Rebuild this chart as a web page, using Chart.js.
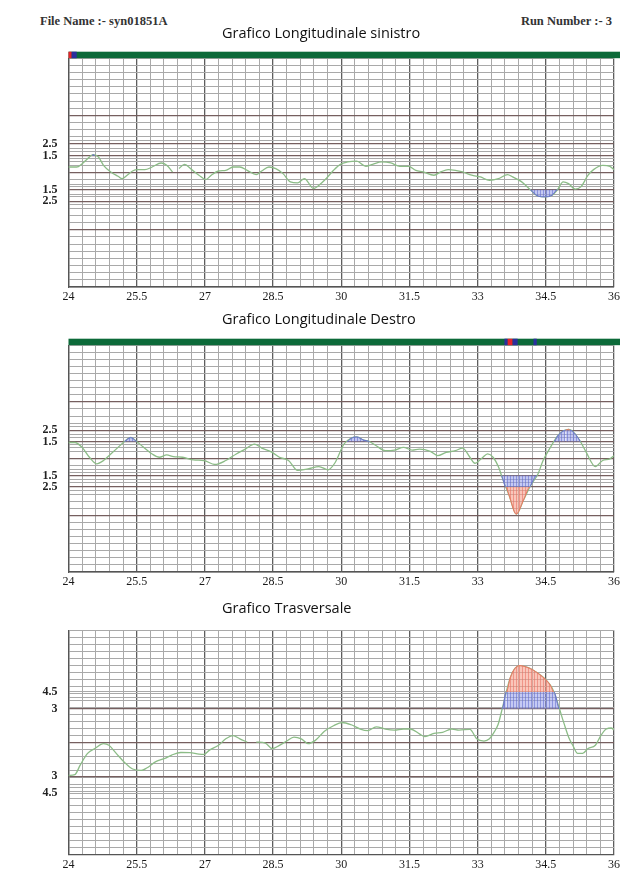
<!DOCTYPE html>
<html>
<head>
<meta charset="utf-8">
<script src="https://cdn.jsdelivr.net/npm/chart.js@4.4.1/dist/chart.umd.min.js"></script>
<style>
  body { margin: 0; background: #fff; width: 625px; height: 873px; overflow: hidden; position: relative; }
  .box { position: absolute; left: 0; width: 625px; }
  .hdr { position: absolute; font: bold 12.5px "Liberation Serif", serif; color: #333; line-height: 13px; white-space: nowrap; }
  .ttl { position: absolute; left: 222px; font: 14.5px "Open Sans", sans-serif; color: #111; line-height: 18px; white-space: nowrap; }
</style>
</head>
<body>
<div class="hdr" style="left:40px; top:15px">File Name :- syn01851A</div>
<div class="hdr" style="right:13px; top:15px">Run Number :- 3</div>

<div class="box" style="top:40px; height:270px"><canvas id="left"></canvas></div>
<div class="box" style="top:327px; height:270px"><canvas id="right"></canvas></div>
<div class="box" style="top:612px; height:261px"><canvas id="cross"></canvas></div>

<div class="ttl" style="top:24px">Grafico Longitudinale sinistro</div>
<div class="ttl" style="top:310px">Grafico Longitudinale Destro</div>
<div class="ttl" style="top:599px">Grafico Trasversale</div>

<script>
// chainage (x) and deviation values
const xTickLabels = [24, 25.5, 27, 28.5, 30, 31.5, 33, 34.5, 36];
const longLimits = [1.5, 2.5];   // longitudinal thresholds
const crossLimits = [3, 4.5];    // transversal thresholds

const leftX = [24.00, 24.18, 24.30, 24.42, 24.54, 24.66, 24.77, 24.93, 25.09, 25.18, 25.29, 25.41, 25.52, 25.68, 25.84,
  26.04, 26.16, 26.29, 26.36, 26.43, 26.55, 26.71, 26.87, 27.02, 27.14, 27.30, 27.46, 27.62, 27.77, 27.93, 28.13, 28.25,
  28.41, 28.56, 28.72, 28.88, 29.04, 29.19, 29.39, 29.51, 29.67, 29.83, 29.98, 30.14, 30.34, 30.54, 30.69, 30.89, 31.09,
  31.29, 31.48, 31.64, 31.80, 32.04, 32.19, 32.35, 32.51, 32.67, 32.87, 33.06, 33.26, 33.46, 33.66, 33.77, 33.97, 34.17,
  34.33, 34.48, 34.64, 34.76, 34.88, 35.00, 35.15, 35.27, 35.43, 35.55, 35.75, 35.91, 36.00];
const leftY = [0.49, 0.49, 0.78, 1.22, 1.57, 1.36, 0.64, 0.06, -0.32, -0.52, -0.23, 0.14, 0.26, 0.26, 0.49,
  0.84, 0.64, 0.06, null, 0.35, 0.72, 0.26, -0.23, -0.61, -0.23, 0.14, 0.20, 0.49, 0.49, 0.20, -0.17, 0.14,
  0.49, 0.35, -0.09, -0.81, -0.90, -0.52, -1.39, -1.10, -0.52, 0.20, 0.72, 0.93, 1.01, 0.55, 0.72, 0.93, 0.84,
  0.55, 0.55, 0.20, 0.06, -0.23, 0.06, 0.26, 0.20, 0.06, -0.23, -0.38, -0.67, -0.52, -0.17, -0.38, -0.81, -1.54,
  -2.06, -2.12, -1.97, -1.48, -0.81, -0.96, -1.45, -1.25, -0.23, 0.26, 0.64, 0.55, 0.26];

const rightX = [24.00, 24.14, 24.30, 24.46, 24.62, 24.77, 24.93, 25.09, 25.25, 25.37, 25.48, 25.64, 25.84, 26.00, 26.16,
  26.31, 26.51, 26.75, 26.98, 27.22, 27.46, 27.69, 27.89, 28.09, 28.25, 28.48, 28.64, 28.84, 29.04, 29.27, 29.51, 29.71,
  29.87, 30.06, 30.22, 30.34, 30.50, 30.62, 30.77, 30.97, 31.17, 31.37, 31.56, 31.72, 31.96, 32.12, 32.31, 32.51, 32.67,
  32.83, 32.94, 33.10, 33.22, 33.34, 33.46, 33.55, 33.69, 33.85, 34.01, 34.17, 34.33, 34.44, 34.60, 34.76, 34.88, 35.00,
  35.12, 35.26, 35.39, 35.59, 35.75, 35.91, 36.00];
const rightY = [1.42, 1.42, 0.99, 0.12, -0.46, -0.17, 0.41, 0.99, 1.57, 1.86, 1.57, 1.04, 0.41, 0.12, 0.32,
  0.17, 0.12, -0.12, -0.17, -0.52, -0.17, 0.41, 0.84, 1.28, 0.93, 0.55, 0.12, -0.17, -1.04, -0.90, -0.70, -0.99,
  -0.32, 1.28, 1.80, 1.91, 1.62, 1.51, 1.13, 0.70, 0.75, 0.99, 0.75, 0.84, 0.64, 0.26, 0.55, 0.70, 0.93,
  0.12, -0.41, 0.06, 0.41, 0.12, -0.75, -1.77, -3.22, -4.90, -3.65, -2.35, -1.33, -0.17, 0.99, 2.00, 2.43, 2.58,
  2.29, 1.51, 0.55, -0.70, -0.17, -0.03, 0.26];

const crossX = [24.00, 24.14, 24.26, 24.42, 24.58, 24.77, 24.89, 25.05, 25.25, 25.41, 25.60, 25.72, 25.92, 26.12, 26.27,
  26.47, 26.67, 26.87, 26.98, 27.10, 27.30, 27.46, 27.62, 27.77, 27.93, 28.03, 28.13, 28.33, 28.48, 28.64, 28.80, 28.96,
  29.12, 29.27, 29.43, 29.63, 29.83, 30.02, 30.22, 30.42, 30.58, 30.77, 30.97, 31.17, 31.37, 31.52, 31.72, 31.84, 32.04,
  32.23, 32.43, 32.59, 32.83, 32.98, 33.14, 33.26, 33.36, 33.45, 33.54, 33.63, 33.72, 33.82, 33.93, 34.05, 34.20, 34.35,
  34.50, 34.60, 34.68, 34.80, 34.90, 35.00, 35.10, 35.20, 35.31, 35.43, 35.59, 35.71, 35.83, 35.94, 36.00];
const crossY = [-2.94, -2.86, -1.99, -0.97, -0.53, -0.10, -0.25, -0.97, -1.84, -2.36, -2.48, -2.27, -1.70, -1.41, -1.12,
  -0.89, -0.91, -1.03, -1.06, -0.68, -0.25, 0.33, 0.62, 0.33, 0.04, null, 0.04, -0.05, -0.54, -0.25, 0.13, 0.48,
  0.33, -0.10, 0.19, 1.00, 1.49, 1.78, 1.58, 1.20, 1.06, 1.40, 1.20, 1.11, 1.20, 1.20, 0.77, 0.53, 0.82,
  0.91, 1.20, 1.11, 1.17, 0.33, 0.13, 0.33, 0.90, 1.60, 3.00, 4.50, 5.80, 6.60, 6.85, 6.75, 6.50, 6.10,
  5.60, 5.10, 4.50, 3.00, 1.70, 0.50, -0.30, -0.97, -0.97, -0.53, -0.25, 0.62, 1.20, 1.29, 1.11];

// exceedance flags on the top strip: [from, to, type]
const leftFlags = [[24.00, 24.07, 'r'], [24.07, 24.18, 'b']];
const rightFlags = [[33.59, 33.66, 'b'], [33.66, 33.77, 'r'], [33.77, 33.88, 'b'], [34.23, 34.30, 'b']];

// ---------------------------------------------------------------

function hatch(bg, line) {
  const c = document.createElement('canvas');
  c.width = 3; c.height = 3;
  const g = c.getContext('2d');
  g.fillStyle = bg; g.fillRect(0, 0, 3, 3);
  g.fillStyle = line; g.fillRect(0, 0, 1, 3);
  return g.createPattern(c, 'repeat');
}
const blueHatch = hatch('rgba(150,158,235,0.55)', 'rgba(95,105,205,0.55)');
const redHatch = hatch('rgba(246,160,140,0.6)', 'rgba(232,110,95,0.55)');

// series clamped into [from, to], with the threshold crossings added so the fill follows the line
function band(xs, ys, from, to) {
  const clamp = v => Math.min(Math.max(v, from), to);
  const pts = [];
  for (let i = 0; i < xs.length; i++) {
    const v = ys[i];
    if (v === null) { pts.push({ x: xs[i], y: null }); continue; }
    pts.push({ x: xs[i], y: clamp(v) });
    const n = ys[i + 1];
    if (i + 1 < xs.length && n !== null && n !== undefined) {
      const cross = [];
      [from, to].forEach(lim => {
        if (isFinite(lim) && (v - lim) * (n - lim) < 0) {
          const t = (lim - v) / (n - v);
          cross.push({ x: xs[i] + t * (xs[i + 1] - xs[i]), y: lim });
        }
      });
      cross.sort((a, b) => a.x - b.x).forEach(p => pts.push(p));
    }
  }
  return pts;
}

function yGrid(limits, extra) {
  const vals = [];
  for (let k = 0; k <= 32; k++) vals.push(+(-10 + k * 0.625).toFixed(4));
  limits.concat(extra).forEach(v => { vals.push(v); vals.push(-v); });
  return [...new Set(vals)].sort((a, b) => a - b);
}

const xGrid = [];
for (let i = 0; i <= 40; i++) xGrid.push(+(24 + i * 0.3).toFixed(2));
const isMajorX = v => xTickLabels.some(t => Math.abs(t - v) < 1e-6);

function stripPlugin(flags) {
  return {
    id: 'strip',
    afterDraw(chart) {
      const { ctx, chartArea: a, scales: { x } } = chart;
      ctx.save();
      ctx.fillStyle = '#0c6a39';
      ctx.fillRect(a.left, a.top - 6.5, a.right - a.left + 6, 6.5);
      flags.forEach(([from, to, t]) => {
        const x0 = x.getPixelForValue(from), x1 = x.getPixelForValue(to);
        ctx.fillStyle = t === 'r' ? '#e5232b' : '#2b2f9e';
        ctx.fillRect(x0, a.top - 6.5, x1 - x0, 6.5);
      });
      ctx.restore();
    }
  };
}

function makeChart(id, xs, ys, limits, extra, darkLines, flags, padTop, xHeight) {
  const [lo, hi] = limits;
  const flat = (s, from, to) => s.p0.parsed.y === s.p1.parsed.y && (s.p0.parsed.y === from || s.p0.parsed.y === to);
  const fills = [[lo, hi, lo, 'b'], [hi, Infinity, hi, 'r'], [-hi, -lo, -lo, 'b'], [-Infinity, -hi, -hi, 'r']]
    .map(([from, to, base, t]) => ({
      data: band(xs, ys, from, to),
      fill: { value: base },
      backgroundColor: t === 'b' ? blueHatch : redHatch,
      borderWidth: 1,
      segment: { borderColor: s => flat(s, from, to) ? 'rgba(0,0,0,0)' : (t === 'b' ? '#6a72d2' : '#ee7862') },
      pointRadius: 0,
      cubicInterpolationMode: 'monotone',
      spanGaps: false,
      order: 1
    }));
  const ticksY = yGrid(limits, extra);
  const isDark = v => darkLines.some(d => Math.abs(Math.abs(v) - d) < 1e-6);

  return new Chart(document.getElementById(id), {
    type: 'line',
    data: {
      datasets: [{
        data: xs.map((x, i) => ({ x, y: ys[i] })),
        borderColor: 'rgb(140,188,135)',
        borderWidth: 1.3,
        pointRadius: 0,
        cubicInterpolationMode: 'monotone',
        spanGaps: false,
        fill: false,
        order: 3
      }].concat(fills)
    },
    options: {
      responsive: true,
      maintainAspectRatio: false,
      animation: false,
      layout: { padding: { top: padTop, right: 11, left: 0, bottom: 0 } },
      plugins: { legend: { display: false }, tooltip: { enabled: false } },
      scales: {
        x: {
          type: 'linear', min: 24, max: 36,
          afterBuildTicks: s => { s.ticks = xGrid.map(v => ({ value: v })); },
          afterFit: s => { s.height = xHeight; },
          ticks: {
            autoSkip: false, maxRotation: 0, padding: 3,
            font: { family: 'Liberation Serif', size: 12 }, color: '#1a1a1a',
            callback: v => isMajorX(v) ? String(+v.toFixed(1)) : ''
          },
          grid: {
            drawTicks: false,
            color: c => isMajorX(c.tick.value) ? '#5e5e5e' : '#a9a9a9',
            lineWidth: c => isMajorX(c.tick.value) ? 1.3 : 1
          },
          border: { display: true, color: '#555', width: 1.3 }
        },
        y: {
          type: 'linear', min: -10, max: 10,
          afterBuildTicks: s => { s.ticks = ticksY.map(v => ({ value: v })); },
          afterFit: s => { s.width = 68.5; },
          ticks: {
            autoSkip: false, padding: 11,
            font: { family: 'Liberation Serif', size: 12, weight: 'bold' }, color: '#222',
            callback: v => {
              const a = Math.abs(+v.toFixed(3));
              return limits.includes(a) && v !== 0 ? String(a) : '';
            }
          },
          grid: {
            drawTicks: false,
            color: c => (c.tick.value === 0 || isDark(c.tick.value)) ? '#765f5f' : '#a9a9a9',
            lineWidth: c => (c.tick.value === 0 || isDark(c.tick.value)) ? 1.2 : 1
          },
          border: { display: true, color: '#555', width: 1.3 }
        }
      }
    },
    plugins: flags ? [stripPlugin(flags)] : []
  });
}

makeChart('left', leftX, leftY, longLimits, [1.0, 2.1, 2.8], [1.5, 2.5, 5], leftFlags, 17.5, 23);
makeChart('right', rightX, rightY, longLimits, [1.0, 2.1, 2.8], [1.5, 2.5, 5], rightFlags, 17, 25);
makeChart('cross', crossX, crossY, crossLimits, [4.0], [3], null, 17, 15);
</script>
</body>
</html>
